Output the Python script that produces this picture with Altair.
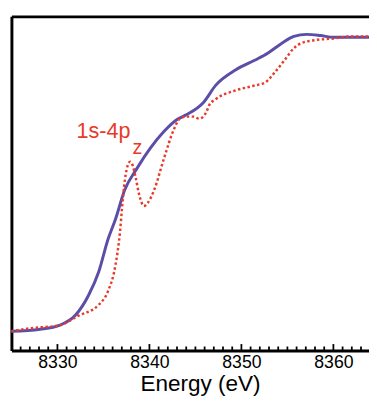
import altair as alt
import pandas as pd

# Blue (solid) spectrum
blue_energy = [8325.0, 8328.1, 8330.2, 8332.0, 8333.4, 8334.5, 8335.5, 8336.3, 8337.3, 8338.7,
               8340.1, 8341.6, 8343.0, 8344.0, 8345.9, 8347.2, 8349.4, 8351.5, 8352.9, 8354.4,
               8355.7, 8357.1, 8358.6, 8360.0, 8363.9]
blue_abs = [0.0, 0.007, 0.02, 0.056, 0.123, 0.203, 0.312, 0.379, 0.478, 0.555,
            0.621, 0.678, 0.718, 0.734, 0.777, 0.834, 0.887, 0.920, 0.944, 0.977,
            1.0, 1.007, 1.003, 0.997, 0.997]

# Red (dotted) spectrum
red_energy = [8325.0, 8327.0, 8330.2, 8332.3, 8334.5, 8335.5, 8336.3, 8336.8, 8337.1, 8337.4,
              8337.9, 8338.2, 8338.5, 8338.9, 8339.4, 8339.8, 8340.5, 8341.6, 8342.7, 8343.3,
              8344.0, 8344.8, 8345.4, 8346.2, 8346.5, 8347.2, 8349.4, 8351.5, 8352.6, 8353.6,
              8354.7, 8355.7, 8356.5, 8357.9, 8360.0, 8361.8, 8363.9]
red_abs = [0.0, 0.01, 0.02, 0.053, 0.09, 0.136, 0.223, 0.336, 0.445, 0.528,
           0.575, 0.561, 0.522, 0.462, 0.425, 0.435, 0.478, 0.588, 0.688, 0.721,
           0.728, 0.728, 0.721, 0.744, 0.767, 0.787, 0.817, 0.834, 0.844, 0.877,
           0.920, 0.960, 0.977, 0.987, 0.993, 1.0, 1.0]

x_ticks = [8330, 8340, 8350, 8360]
minor_ticks = [e for e in range(8326, 8364) if e % 10 != 0]

ann_text = ["1s-4p"]
ann_x = [8332.08]
ann_y = [0.654]
sub_text = ["z"]
sub_x = [8338.15]
sub_y = [0.601]

BLUE = "#5a4ea8"
RED = "#e83a2a"
XDOM = [8325, 8363.87]
YDOM = [-0.065, 1.068]

blue_df = pd.DataFrame({"E": blue_energy, "A": blue_abs})
red_df = pd.DataFrame({"E": red_energy, "A": red_abs})

xscale = alt.Scale(domain=XDOM, nice=False, zero=False)
yscale = alt.Scale(domain=YDOM, nice=False, zero=False)

xaxis = alt.Axis(values=x_ticks, format="d", ticks=False, tickSize=0, grid=False,
                 domainColor="black", domainWidth=3, labelFontSize=18, labelFont="Liberation Sans",
                 labelColor="black", labelPadding=3, title="Energy (eV)", titleFontSize=23,
                 titleFont="Liberation Sans", titleFontWeight="normal", titleColor="black",
                 titlePadding=2, titleX=192.5, titleAlign="center", titleAnchor="start")
yaxis = alt.Axis(labels=False, ticks=False, grid=False, domainColor="black", domainWidth=3,
                 domainOpacity=1, title=None)

blue_line = alt.Chart(blue_df).mark_line(color=BLUE, strokeWidth=3, interpolate="monotone").encode(
    x=alt.X("E:Q", scale=xscale, axis=xaxis),
    y=alt.Y("A:Q", scale=yscale, axis=yaxis),
)
red_line = alt.Chart(red_df).mark_line(color=RED, strokeWidth=2.5, strokeDash=[2.5, 2.5],
                                        interpolate="monotone").encode(
    x=alt.X("E:Q", scale=xscale, axis=None),
    y=alt.Y("A:Q", scale=yscale, axis=yaxis),
)

top_axis = alt.Chart(pd.DataFrame({"E": [XDOM[0]]})).mark_point(opacity=0).encode(
    x=alt.X("E:Q", scale=xscale,
            axis=alt.Axis(orient="top", labels=False, ticks=False, grid=False, title=None,
                          domainColor="black", domainWidth=3)),
)

minor = alt.Chart(pd.DataFrame({"E": minor_ticks})).mark_rule(color="black", strokeWidth=1.8).encode(
    x=alt.X("E:Q", scale=xscale, axis=None),
    y=alt.value(341), y2=alt.value(337),
)
major = alt.Chart(pd.DataFrame({"E": x_ticks})).mark_rule(color="black", strokeWidth=1.8).encode(
    x=alt.X("E:Q", scale=xscale, axis=None),
    y=alt.value(341), y2=alt.value(334.5),
)

ann = alt.Chart(pd.DataFrame({"t": ann_text, "E": ann_x, "A": ann_y})).mark_text(
    color=RED, fontSize=22, font="Liberation Sans", align="left", baseline="alphabetic").encode(
    x=alt.X("E:Q", scale=xscale, axis=None), y=alt.Y("A:Q", scale=yscale, axis=yaxis), text="t:N")
sub = alt.Chart(pd.DataFrame({"t": sub_text, "E": sub_x, "A": sub_y})).mark_text(
    color=RED, fontSize=20, font="Liberation Sans", align="left", baseline="alphabetic").encode(
    x=alt.X("E:Q", scale=xscale, axis=None), y=alt.Y("A:Q", scale=yscale, axis=yaxis), text="t:N")

chart = alt.layer(blue_line, top_axis, red_line, minor, major, ann, sub).resolve_axis(
    x="independent"
).properties(
    width=365, height=341,
    autosize=alt.AutoSizeParams(type="none"),
    padding={"left": 3.5, "top": 4.5, "right": 0, "bottom": 44},
).configure_view(stroke=None).configure(background="white")

chart.save("out.html", embed_options={"renderer": "svg", "actions": False})
